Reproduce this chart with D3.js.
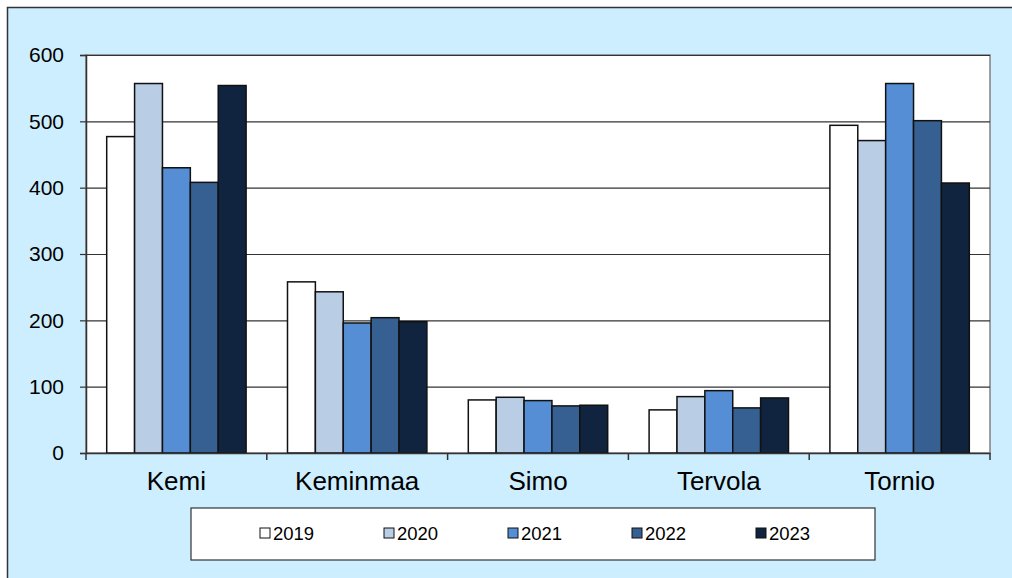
<!DOCTYPE html>
<html>
<head>
<meta charset="utf-8">
<script src="https://cdn.jsdelivr.net/npm/d3@7"></script>
<style>
  body { margin: 0; background: #fff; }
  text { font-family: "Liberation Sans", Arial, sans-serif; fill: #000; }
</style>
</head>
<body>
<div id="svg"></div>
<script>
// data
const towns = ['Kemi', 'Keminmaa', 'Simo', 'Tervola', 'Tornio'];
const years = ['2019', '2020', '2021', '2022', '2023'];
const colors = ['#ffffff', '#b9cde5', '#558ed5', '#376092', '#10243f'];
const v2019 = [477, 258, 80, 65, 494];
const v2020 = [557, 243, 84, 85, 471];
const v2021 = [430, 196, 79, 94, 557];
const v2022 = [408, 204, 71, 68, 501];
const v2023 = [554, 198, 72, 83, 407];
const yTicks = [0, 100, 200, 300, 400, 500, 600];

function makeGraph(){
    let w = 1012;
    let h = 578;
    let series = [v2019, v2020, v2021, v2022, v2023];

    let svg = d3.select('#svg').append('svg').attr('width', w).attr('height', h);

    // outer chart area
    svg.append('rect')
      .attr('x', 7.5).attr('y', 7.5)
      .attr('width', w).attr('height', h)
      .style('fill', '#cceeff')
      .style('stroke', '#333')
      .style('stroke-width', 1.5);

    let left = 86, right = 990, top = 55, bottom = 453;

    svg.append('rect')
      .attr('x', left).attr('y', top)
      .attr('width', right - left).attr('height', bottom - top)
      .style('fill', '#fff')
      .style('stroke', '#808080')
      .style('stroke-width', 1.5);

    let yScale = d3.scaleLinear()
                .domain([0, 600])
                .range([bottom, top]);

    let x0 = d3.scaleBand()
                .domain(towns)
                .range([left, right]);

    let bw = x0.bandwidth();
    let x1 = d3.scaleBand()
                .domain(years)
                .range([bw * 0.1145, bw * (1 - 0.1145)]);

    // gridlines
    svg.append('g')
      .selectAll('line')
      .data(yTicks.filter(d => d > 0))
      .enter()
        .append('line')
        .attr('x1', left).attr('x2', right)
        .attr('y1', d => yScale(d) + 0.5).attr('y2', d => yScale(d) + 0.5)
        .style('stroke', '#333')
        .style('stroke-width', 1.2);

    // bars
    let rows = [];
    towns.forEach((t, i) => {
      years.forEach((y, j) => rows.push({town: t, year: y, value: series[j][i], color: colors[j]}));
    });

    svg.append('g')
      .selectAll('rect')
      .data(rows)
      .enter()
        .append('rect')
        .attr('x', d => x0(d.town) + x1(d.year))
        .attr('y', d => yScale(d.value))
        .attr('width', x1.bandwidth())
        .attr('height', d => bottom - yScale(d.value))
        .style('fill', d => d.color)
        .style('stroke', '#111')
        .style('stroke-width', 1.5);

    // axes
    let yAxis = d3.axisLeft(yScale).tickValues(yTicks).tickSize(6).tickPadding(16);
    let yAxisGroup = svg.append('g')
                    .attr('transform', `translate(${left}, 0)`)
                    .call(yAxis);
    yAxisGroup.select('.domain').style('stroke', '#333').style('stroke-width', 1.5);
    yAxisGroup.selectAll('.tick line').style('stroke', '#333').style('stroke-width', 1.2);
    yAxisGroup.selectAll('text').style('font-size', '21px')
      .style('font-family', '"Liberation Sans", Arial, sans-serif');

    let xAxis = d3.axisBottom(x0).tickSize(0).tickPadding(19);
    let xAxisGroup = svg.append('g')
                    .attr('transform', `translate(0, ${bottom})`)
                    .call(xAxis);
    xAxisGroup.select('.domain').style('stroke', '#333').style('stroke-width', 1.5);
    xAxisGroup.selectAll('text').style('font-size', '26px')
      .style('font-family', '"Liberation Sans", Arial, sans-serif');

    // category separator ticks
    svg.append('g')
      .selectAll('line')
      .data(towns.concat(['end']))
      .enter()
        .append('line')
        .attr('x1', (d, i) => left + i * bw).attr('x2', (d, i) => left + i * bw)
        .attr('y1', bottom).attr('y2', bottom + 7)
        .style('stroke', '#333')
        .style('stroke-width', 1.5);

    // legend
    let lg = svg.append('g');
    lg.append('rect')
      .attr('x', 191).attr('y', 508)
      .attr('width', 684).attr('height', 52)
      .style('fill', '#fff')
      .style('stroke', '#333')
      .style('stroke-width', 1.2);

    let items = lg.selectAll('g.item')
      .data(years)
      .enter()
        .append('g')
        .attr('transform', (d, i) => `translate(${260 + i * 124}, 528)`);
    items.append('rect')
      .attr('width', 10).attr('height', 10)
      .style('fill', (d, i) => colors[i])
      .style('stroke', '#111')
      .style('stroke-width', 1);
    items.append('text')
      .attr('x', 13).attr('y', 12)
      .style('font-size', '18.5px')
      .text(d => d);
}

window.onload = function(){
    makeGraph();
}
</script>
</body>
</html>
